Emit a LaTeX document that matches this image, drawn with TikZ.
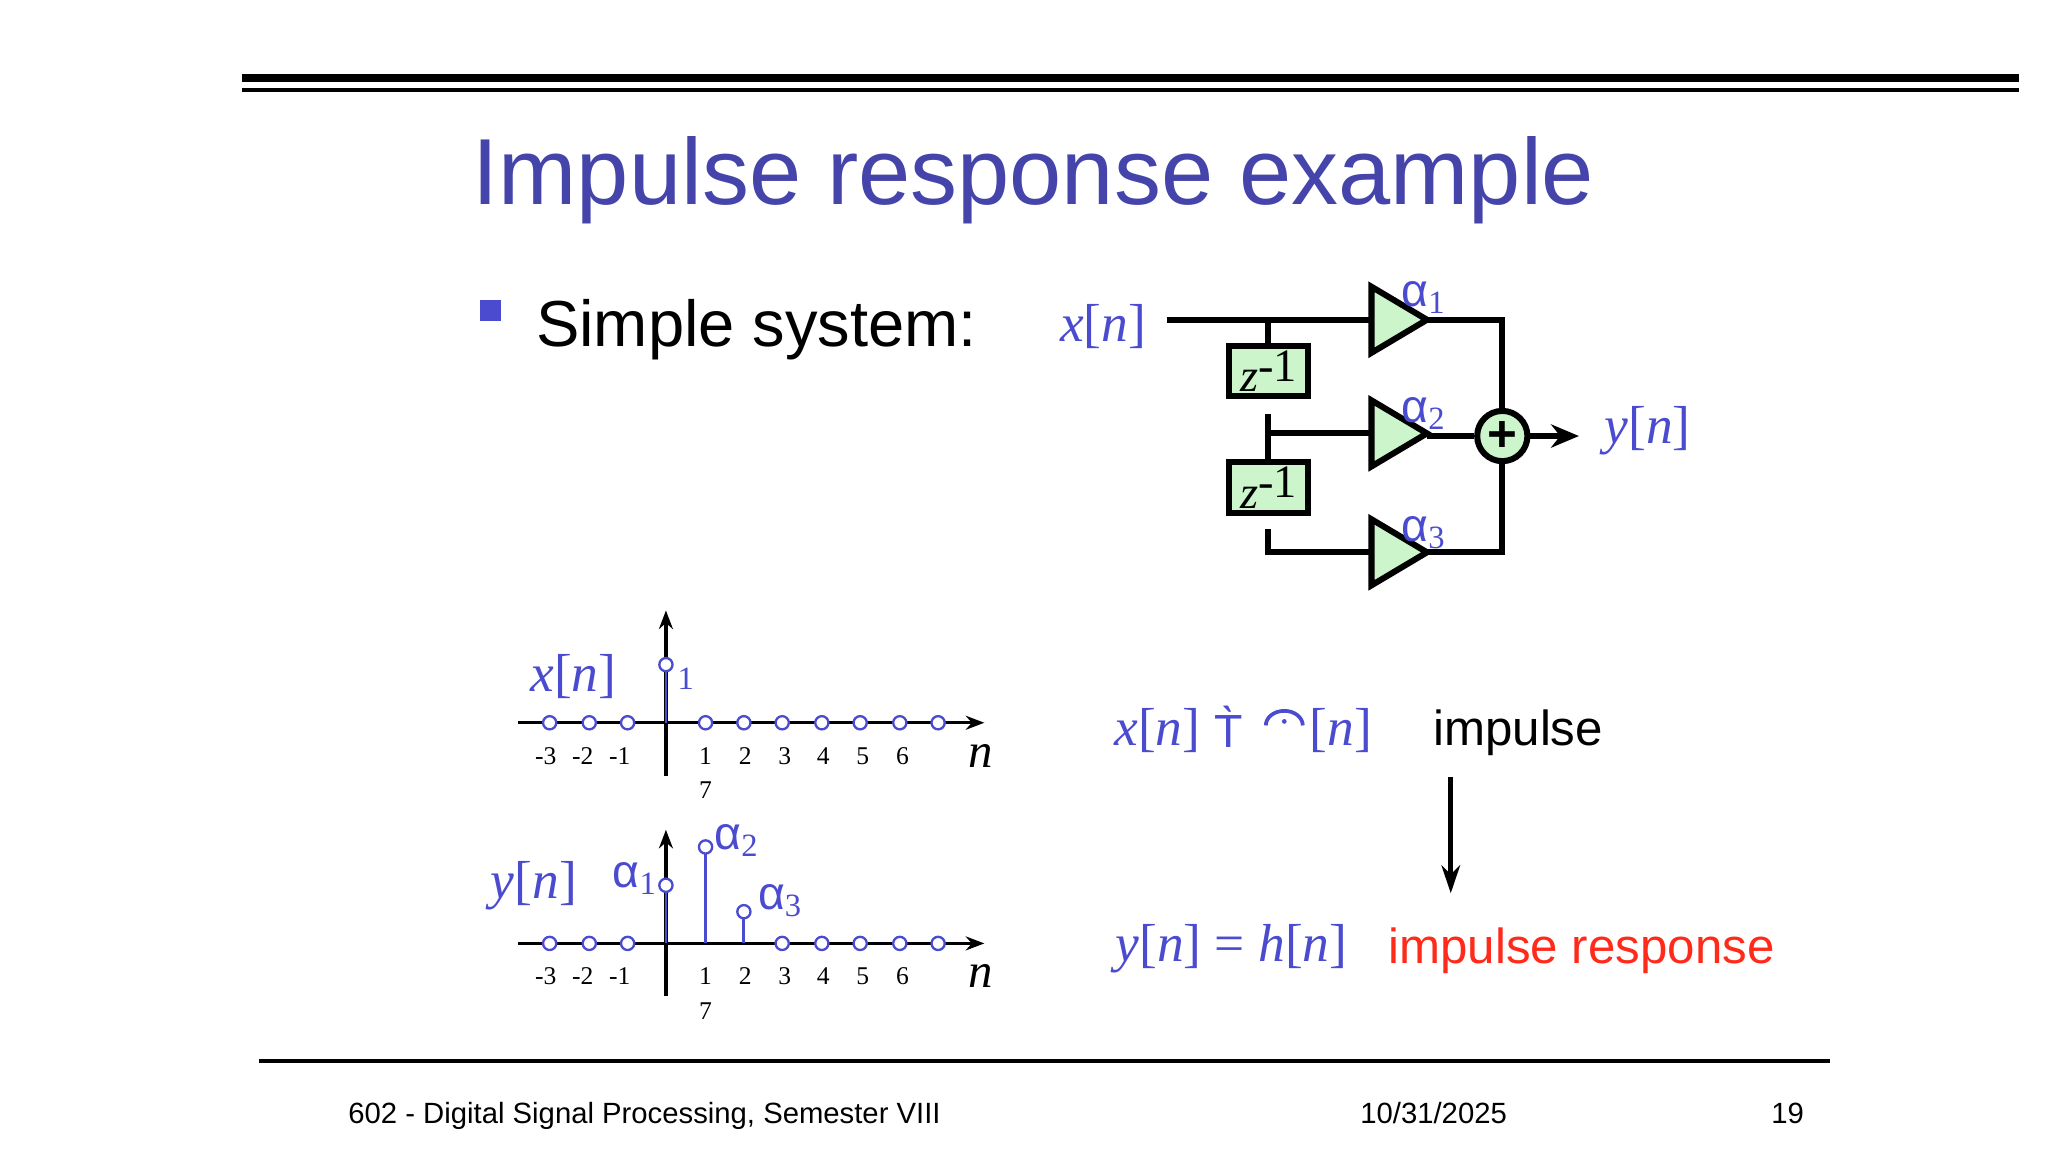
\documentclass[tikz,border=0pt]{standalone}
\usepackage{fontspec}
\setmainfont{Liberation Sans}
\newfontfamily\ser{Liberation Serif}
\usetikzlibrary{arrows.meta}
\definecolor{tblue}{HTML}{4444AA}
\definecolor{lblue}{HTML}{4B4BD0}
\definecolor{gfill}{HTML}{CCF5CC}
\definecolor{rred}{HTML}{FF2A1A}
\newcommand{\sig}[2]{\textit{#1}[\textit{#2}]}
\begin{document}
\begin{tikzpicture}[x=0.01cm,y=-0.01cm,
  wire/.style={line width=1.3pt},
  delay/.style={draw,line width=1.3pt,fill=gfill,minimum width=0.6cm,minimum height=0.38cm,inner sep=0pt},
  amp/.style={draw,line width=1.3pt,fill=gfill},
  lab/.style={text=lblue,font=\ser\fontsize{11.5}{12}\selectfont,inner sep=0pt},
  alab/.style={text=lblue,font=\fontsize{10}{10}\selectfont,inner sep=0pt},
  tick/.style={font=\ser\fontsize{5.5}{6}\selectfont,inner sep=0pt},
  samp/.style={draw=lblue,fill=white,circle,minimum size=0.1cm,inner sep=0pt,line width=0.5pt},
  stem/.style={draw=lblue,line width=0.6pt},
  ax/.style={line width=0.7pt,-{Stealth[length=4pt,width=3pt]}}]
\useasboundingbox (0,0) rectangle (1550,872);
% top rules
\draw[line width=1.8pt] (183,59) -- (1528,59);
\draw[line width=1pt] (183,68) -- (1528,68);
\node[anchor=base west,inner sep=0pt,text=tblue,font=\fontsize{20.2}{22}\selectfont] (title) at (357,155) {Impulse response example};
\fill[lblue] (363,227) rectangle (379,243);
\node[anchor=base west,inner sep=0pt,font=\fontsize{14}{16}\selectfont] (simple) at (405,262) {Simple system:};
% block diagram
\node[lab] (xin) at (835,247) {\sig{x}{n}};
\coordinate (xs) at (883,242);
\coordinate (j1) at (960,242);
\node[delay] (d1) at (960,281) {\ser\fontsize{10}{10}\selectfont\itshape z\upshape\raisebox{0.5ex}{-1}};
\node[delay] (d2) at (960,369) {\ser\fontsize{10}{10}\selectfont\itshape z\upshape\raisebox{0.5ex}{-1}};
\draw[amp] (1038,217) -- (1080,242) -- (1038,267) -- cycle;
\draw[amp] (1038,303) -- (1080,328) -- (1038,353) -- cycle;
\draw[amp] (1038,393) -- (1080,418) -- (1038,443) -- cycle;
\coordinate (t1) at (1080,242);\coordinate (t2) at (1080,330);\coordinate (t3) at (1080,418);
\node[draw,circle,line width=1.3pt,fill=gfill,minimum size=0.38cm,inner sep=0pt,font=\bfseries\fontsize{11}{11}\selectfont] (sum) at (1137,330) {+};
\draw[wire] (xs) -- (1038,242);
\draw[wire] (j1) -- (d1.north);
\draw[wire] (960,313) -- (d2.north);
\draw[wire] (960,328) -- (1038,328);
\draw[wire] (960,400) -- (960,418) -- (1038,418);
\draw[wire] (t1) -- (1137,242) -- (sum.north);
\draw[wire] (t2) -- (sum.west);
\draw[wire] (t3) -- (1137,418) -- (sum.south);
\coordinate (yo) at (1195,330);
\draw[wire,-{Stealth[length=6pt,width=5pt]}] (sum.east) -- (yo);
\node[lab] (yout) at (1247,326) {\sig{y}{n}};
\node[alab,anchor=base west] (a1) at (1060,232) {α\textsubscript{\ser 1}};
\node[alab,anchor=base west] (a2) at (1060,320) {α\textsubscript{\ser 2}};
\node[alab,anchor=base west] (a3) at (1060,410) {α\textsubscript{\ser 3}};
% plot 1
\coordinate (p1l) at (392,547);\coordinate (p1r) at (745,547);
\coordinate (p1b) at (504,587);\coordinate (p1t) at (504,462);
\draw[ax] (p1l) -- (p1r);
\draw[ax] (p1b) -- (p1t);
\draw[stem] (504,547) -- (504,503);
\node[samp] (s1) at (504,503) {};
\foreach \xx in {416,446,475,534,563,592,622,651,681,710} \node[samp] at (\xx,547) {};
\node[lab] (xl) at (434,512) {\sig{x}{n}};
\node[tick,text=lblue,font=\ser\fontsize{7}{7}\selectfont] (one) at (519,514) {1};
\foreach \xx/\t in {413/-3,441/-2,469/-1,534/1,564/2,594/3,623/4,653/5,683/6} \node[tick] at (\xx,572) {\t};
\node[tick] at (534,598) {7};
\node[font=\ser\itshape\fontsize{10.5}{10}\selectfont,inner sep=0pt] (n1) at (742,572) {n};
% plot 2
\coordinate (p2l) at (392,714);\coordinate (p2r) at (745,714);
\coordinate (p2b) at (504,754);\coordinate (p2t) at (504,628);
\draw[ax] (p2l) -- (p2r);
\draw[ax] (p2b) -- (p2t);
\draw[stem] (504,714) -- (504,670);
\draw[stem] (534,714) -- (534,641);
\draw[stem] (563,714) -- (563,690);
\node[samp] at (504,670) {};\node[samp] at (534,641) {};\node[samp] at (563,690) {};
\foreach \xx in {416,446,475,592,622,651,681,710} \node[samp] at (\xx,714) {};
\node[lab] (yl) at (404,670) {\sig{y}{n}};
\node[alab,anchor=base west] at (463,672) {α\textsubscript{\ser 1}};
\node[alab,anchor=base west] at (540,643) {α\textsubscript{\ser 2}};
\node[alab,anchor=base west] at (573,688) {α\textsubscript{\ser 3}};
\foreach \xx/\t in {413/-3,441/-2,469/-1,534/1,564/2,594/3,623/4,653/5,683/6} \node[tick] at (\xx,739) {\t};
\node[tick] at (534,765) {7};
\node[font=\ser\itshape\fontsize{10.5}{10}\selectfont,inner sep=0pt] (n2) at (742,739) {n};
% right texts
\node[lab] (xr) at (876,553) {\sig{x}{n}};
\node[text=lblue,inner sep=0pt,font=\fontsize{10}{10}\selectfont] (tg) at (930,550) {T̀};
\draw[lblue,line width=0.8pt] (958,549) arc[start angle=180,end angle=0,x radius=14,y radius=-11];
\fill[lblue] (972,546) circle (1.8);
\node[lab] (nr) at (1015,553) {[\textit{n}]};
\node[inner sep=0pt,font=\fontsize{10.6}{12}\selectfont,anchor=base] (imp) at (1149,564) {impulse};
\coordinate (aa) at (1098,588);\coordinate (ab) at (1098,676);
\draw[line width=1pt,-{Stealth[length=6pt,width=4pt]}] (aa) -- (ab);
\node[lab] (yh) at (932,718) {\sig{y}{n} = \sig{h}{n}};
\node[inner sep=0pt,text=rred,font=\fontsize{10.6}{12}\selectfont,anchor=base] (ir) at (1197,729) {impulse response};
% footer
\draw[line width=0.8pt] (196,803) -- (1385,803);
\node[anchor=base west,inner sep=0pt,font=\fontsize{6.3}{7}\selectfont] (f1) at (263,850) {602 - Digital Signal Processing, Semester VIII};
\node[anchor=base,inner sep=0pt,font=\fontsize{6.3}{7}\selectfont] (f2) at (1085,850) {10/31/2025};
\node[anchor=base,inner sep=0pt,font=\fontsize{6.3}{7}\selectfont] (f3) at (1353,850) {19};
\end{tikzpicture}
\end{document}
